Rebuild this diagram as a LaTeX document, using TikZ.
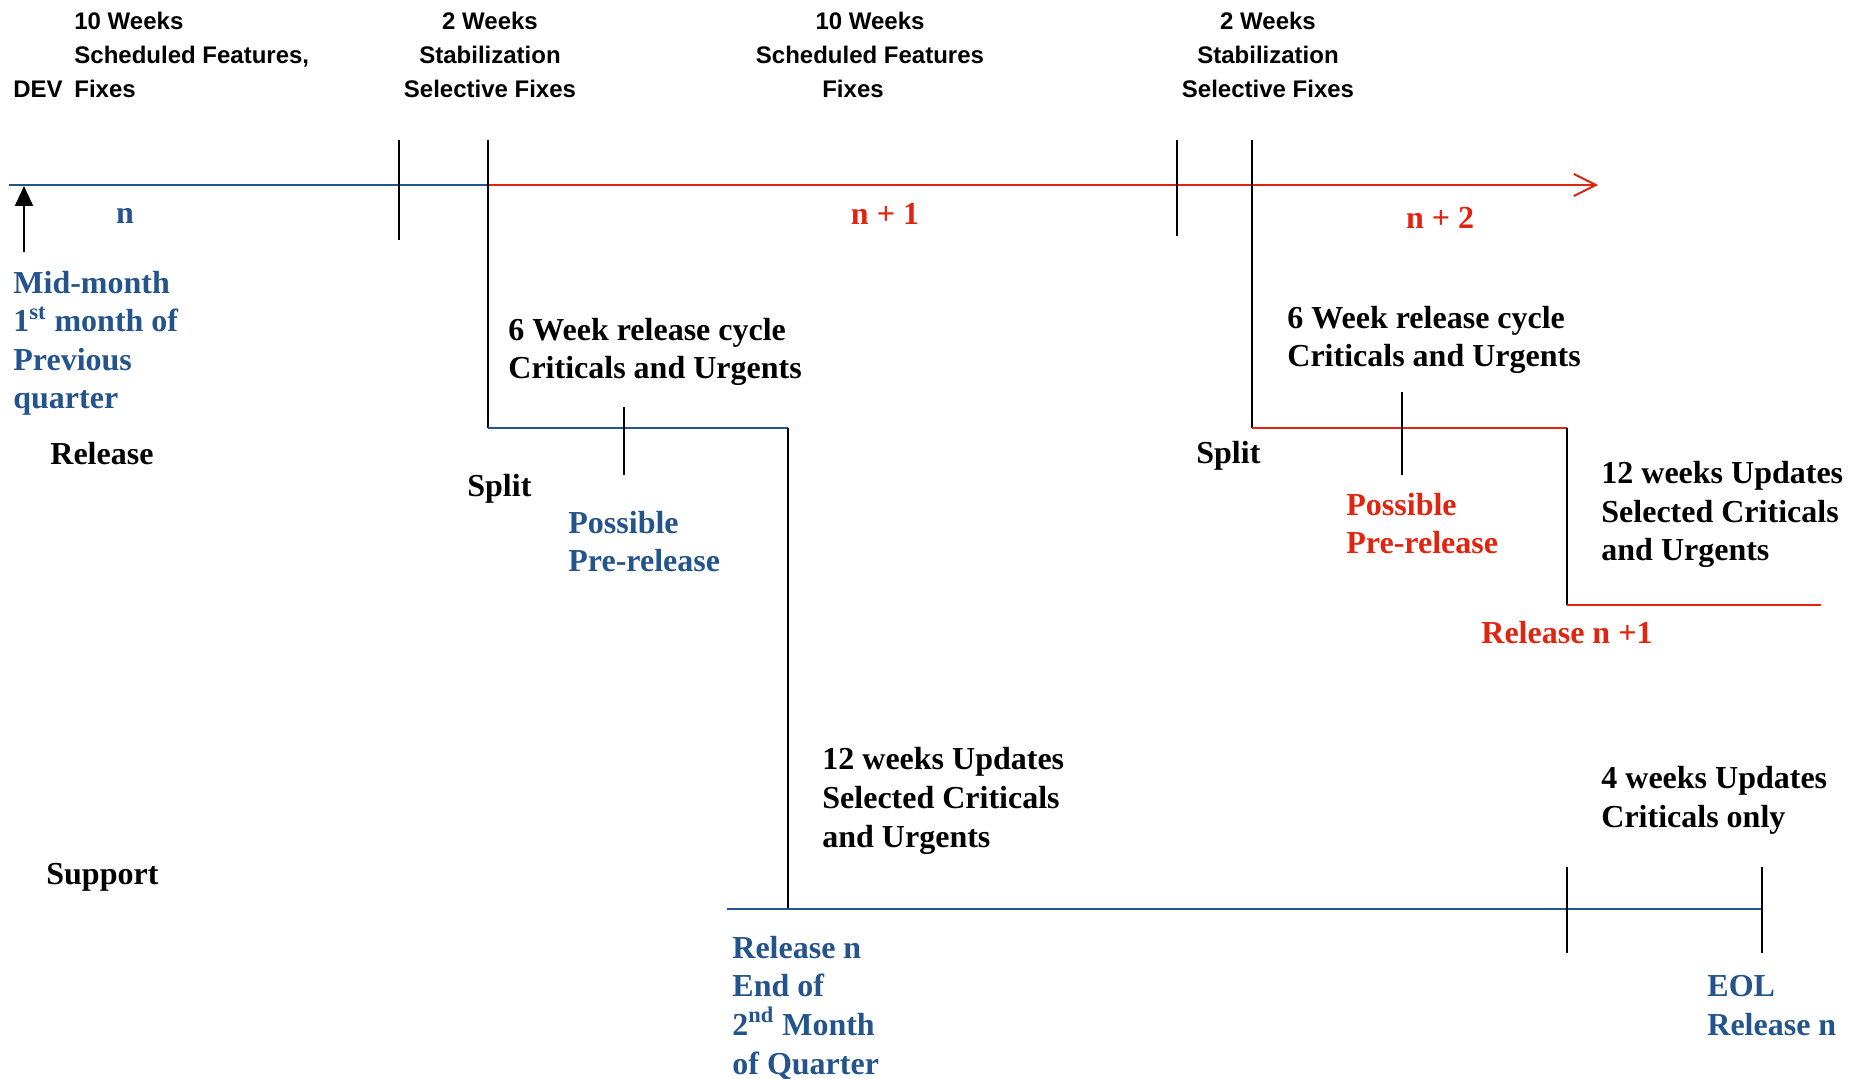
\documentclass[tikz,border=0pt]{standalone}
\usepackage{fontspec}
\setmainfont{Liberation Serif}
\setsansfont{Liberation Sans}
\usetikzlibrary{arrows.meta}
\definecolor{relblue}{RGB}{36,84,140}
\definecolor{relred}{RGB}{224,36,16}
\begin{document}
\begin{tikzpicture}[x=0.5pt,y=-0.5pt,
  ser/.style={font=\fontsize{16}{19.3}\selectfont\bfseries, anchor=base west, inner sep=0pt, align=left},
  san/.style={font=\fontsize{12}{17.2}\selectfont\sffamily\bfseries, anchor=base west, inner sep=0pt, align=left},
  sanc/.style={san, anchor=base, align=center},
  tick/.style={black, line width=0.9pt},
  bl/.style={relblue, line width=1pt},
  rd/.style={relred, line width=1pt}]
\useasboundingbox (0,0) rectangle (1863,1079);
% ---------- coordinates ----------
\coordinate (L0) at (9,185);
\coordinate (S1top) at (488,140);
\coordinate (S1) at (488,185);
\coordinate (S1c) at (488,428);
\coordinate (R1c) at (788,428);
\coordinate (R1b) at (788,909);
\coordinate (ArrEnd) at (1598,185);
\coordinate (S2top) at (1252,140);
\coordinate (S2c) at (1252,428);
\coordinate (R2c) at (1567,428);
\coordinate (R2b) at (1567,605);
\coordinate (R2e) at (1821,605);
\coordinate (B0) at (727,909);
\coordinate (B1) at (1762,909);
% ---------- main timeline ----------
\draw[bl] (L0) -- (S1);
\draw[rd, -{Straight Barb[length=11pt,width=11pt,line width=1pt]}] (S1) -- (ArrEnd);
\draw[tick] (399,140) -- (399,240);
\draw[tick] (1177,140) -- (1177,236);
% ---------- release n branch ----------
\draw[tick] (S1top) -- (S1c);
\draw[bl] (S1c) -- (R1c);
\draw[tick] (R1c) -- (R1b);
\draw[tick] (624,407) -- (624,475);
% ---------- release n+1 branch ----------
\draw[tick] (S2top) -- (S2c);
\draw[rd] (S2c) -- (R2c);
\draw[tick] (R2c) -- (R2b);
\draw[rd] (R2b) -- (R2e);
\draw[tick] (1402,392) -- (1402,475);
% ---------- support line ----------
\draw[bl] (B0) -- (B1);
\draw[tick] (1567,867) -- (1567,953);
\draw[tick] (1762,867) -- (1762,953);
% ---------- up arrow ----------
\coordinate (UA0) at (24,252);
\coordinate (UA1) at (24,186);
\draw[black, line width=1pt, -{Triangle[length=10pt,width=9pt]}] (UA0) -- (UA1);
% ---------- top labels (anchored at last baseline) ----------
\node[san] (dev) at (13,98) {DEV};
\node[san] (ph1) at (74,98) {10 Weeks\\Scheduled Features,\\Fixes};
\node[sanc] (ph2) at (490,98) {2 Weeks\\Stabilization\\Selective Fixes};
\node[sanc] (ph3) at (870,98) {10 Weeks\\Scheduled Features\\Fixes\hspace*{17pt}};
\node[sanc] (ph4) at (1268,98) {2 Weeks\\Stabilization\\Selective Fixes};
% ---------- version labels ----------
\node[ser, relblue, anchor=base] (vn) at (125,224) {n};
\node[ser, relred, anchor=base] (vn1) at (885,225) {n + 1};
\node[ser, relred, anchor=base] (vn2) at (1440,229) {n + 2};
% ---------- left labels ----------
\node[ser, relblue] (mid) at (13,409) {Mid-month\\1\textsuperscript{st} month of\\Previous\\quarter};
\node[ser] (rel) at (50,465) {Release};
\node[ser] (sup) at (46,884) {Support};
% ---------- release n labels ----------
\node[ser] (cyc1) at (508,379) {6 Week release cycle\\Criticals and Urgents};
\node[ser] (split1) at (467,497) {Split};
\node[ser, relblue] (pre1) at (568,572) {Possible\\Pre-release};
\node[ser] (upd1) at (822,847) {12 weeks Updates\\Selected Criticals\\and Urgents};
\node[ser, relblue] (reln) at (732,1074) {Release n\\End of\\2\textsuperscript{nd} Month\\of Quarter};
% ---------- release n+1 labels ----------
\node[ser] (cyc2) at (1287,367) {6 Week release cycle\\Criticals and Urgents};
\node[ser] (split2) at (1196,464) {Split};
\node[ser, relred] (pre2) at (1346,554) {Possible\\Pre-release};
\node[ser] (upd2) at (1601,561) {12 weeks Updates\\Selected Criticals\\and Urgents};
\node[ser, relred] (reln1) at (1481,643) {Release n +1};
\node[ser] (upd3) at (1601,827) {4 weeks Updates\\Criticals only};
\node[ser, relblue] (eol) at (1707,1035) {EOL\\Release n};
\end{tikzpicture}
\end{document}
